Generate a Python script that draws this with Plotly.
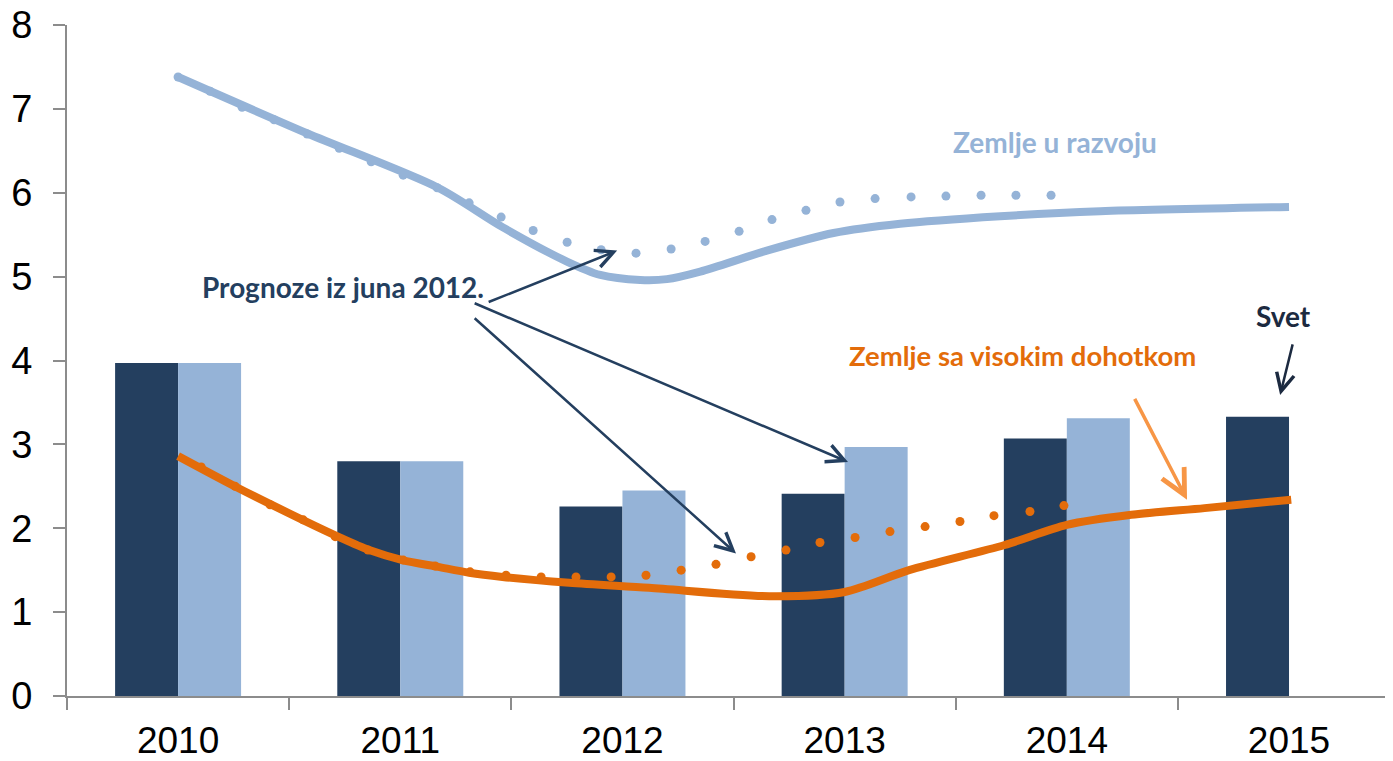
import plotly.graph_objects as go

# category axis: 0 = 2010 ... 5 = 2015
years = ["2010", "2011", "2012", "2013", "2014", "2015"]
year_pos = [0, 1, 2, 3, 4, 5]

# bars
svet = [3.97, 2.80, 2.26, 2.41, 3.07, 3.33]
razvoj_bar = [3.97, 2.80, 2.45, 2.97, 3.31, None]

# developing countries, current estimate (solid) and June 2012 forecast (dots)
razvoj_x = [0.0, 0.58, 1.17, 1.46, 1.75, 1.9, 2.08, 2.2, 2.35, 2.65, 2.95, 3.25, 3.7, 4.15, 5.0]
razvoj_y = [7.38, 6.71, 6.06, 5.59, 5.18, 5.02, 4.96, 4.97, 5.06, 5.31, 5.52, 5.63, 5.72, 5.78, 5.83]
razvoj_prog_x = [0.0, 0.144, 0.288, 0.432, 0.581, 0.725, 0.869, 1.013, 1.166, 1.31, 1.454,
                 1.598, 1.751, 1.904, 2.061, 2.219, 2.372, 2.525, 2.673, 2.826, 2.979,
                 3.137, 3.299, 3.456, 3.614, 3.771, 3.929]
razvoj_prog_y = [7.38, 7.21, 7.02, 6.87, 6.70, 6.53, 6.37, 6.21, 6.06, 5.88, 5.71,
                 5.55, 5.41, 5.32, 5.28, 5.33, 5.42, 5.54, 5.68, 5.79, 5.89,
                 5.93, 5.95, 5.96, 5.97, 5.97, 5.97]

# high income countries
visok_x = [0.0, 0.27, 0.56, 0.72, 0.86, 1.01, 1.17, 1.31, 1.46, 1.76, 2.12, 2.66, 3.0,
           3.29, 3.72, 4.0, 4.29, 4.62, 5.01]
visok_y = [2.86, 2.48, 2.10, 1.90, 1.74, 1.62, 1.54, 1.47, 1.42, 1.35, 1.29, 1.19, 1.24,
           1.50, 1.80, 2.04, 2.16, 2.24, 2.34]
visok_prog_x = [0.104, 0.257, 0.414, 0.563, 0.707, 0.855, 1.013, 1.157, 1.314, 1.476,
                1.634, 1.791, 1.949, 2.106, 2.264, 2.421, 2.579, 2.736, 2.889, 3.047,
                3.204, 3.362, 3.519, 3.672, 3.834, 3.987]
visok_prog_y = [2.73, 2.50, 2.28, 2.10, 1.90, 1.74, 1.62, 1.55, 1.48, 1.44,
                1.42, 1.42, 1.42, 1.44, 1.50, 1.57, 1.66, 1.74, 1.83, 1.89,
                1.96, 2.02, 2.08, 2.15, 2.20, 2.27]

NAVY = "#243f5f"
LIGHT = "#95b3d7"
ORANGE = "#e36c0a"
AXIS = "#8c8c8c"

fig = go.Figure()

fig.add_trace(go.Bar(x=year_pos, y=svet, name="Svet", marker=dict(color=NAVY, line=dict(width=0))))
fig.add_trace(go.Bar(x=year_pos, y=razvoj_bar, name="Zemlje u razvoju",
                     marker=dict(color=LIGHT, line=dict(width=0))))

# forecast dots
fig.add_trace(go.Scatter(x=razvoj_prog_x, y=razvoj_prog_y, mode="markers",
                         marker=dict(color=LIGHT, size=9)))
fig.add_trace(go.Scatter(x=visok_prog_x, y=visok_prog_y, mode="markers",
                         marker=dict(color=ORANGE, size=9)))

# solid lines
fig.add_trace(go.Scatter(x=razvoj_x, y=razvoj_y, mode="lines",
                         line=dict(color=LIGHT, width=8, shape="spline", smoothing=0.8)))
fig.add_trace(go.Scatter(x=visok_x, y=visok_y, mode="lines",
                         line=dict(color=ORANGE, width=8, shape="spline", smoothing=0.8)))

label_font = "Lato"

# text labels
fig.add_annotation(x=1.385, y=4.88, text="<b>Prognoze iz juna 2012.</b>", showarrow=False,
                   xanchor="right", font=dict(family=label_font, size=28, color=NAVY))
fig.add_annotation(x=3.48, y=6.61, text="<b>Zemlje u razvoju</b>", showarrow=False,
                   xanchor="left", font=dict(family=label_font, size=28, color=LIGHT))
fig.add_annotation(x=4.973, y=4.53, text="<b>Svet</b>", showarrow=False,
                   font=dict(family=label_font, size=28, color="#1c2a40"))
fig.add_annotation(x=3.01, y=4.06, text="<b>Zemlje sa visokim dohotkom</b>", showarrow=False,
                   xanchor="left", font=dict(family=label_font, size=27.5, color=ORANGE))

# arrows: (head x, head y, tail x, tail y, colour, width)
arrows = [
    (1.976, 5.31, 1.391, 4.69, NAVY, 2.5),
    (3.015, 2.79, 1.328, 4.69, NAVY, 2.5),
    (2.511, 1.70, 1.328, 4.52, NAVY, 2.5),
    (4.96, 3.59, 5.018, 4.21, "#1c2a40", 2.5),
    (4.541, 2.34, 4.302, 3.56, "#f79646", 3.5),
]
for hx, hy, tx, ty, col, w in arrows:
    fig.add_annotation(x=hx, y=hy, ax=tx, ay=ty, xref="x", yref="y", axref="x", ayref="y",
                       text="", showarrow=True, arrowhead=5, arrowsize=1.4, arrowwidth=w,
                       arrowcolor=col, standoff=0, startstandoff=0)

# the page puts the figure 8px in from the top-left corner
fig.update_layout(
    width=1385, height=753,
    margin=dict(l=59, r=0, t=17, b=65),
    paper_bgcolor="white", plot_bgcolor="white",
    barmode="group", bargap=0.433, bargroupgap=0,
    showlegend=False,
    font=dict(family="Liberation Sans, Arial, sans-serif", size=38, color="black"),
)

fig.update_xaxes(
    range=[-0.5, 5.468], tickvals=year_pos, ticktext=years,
    ticks="", showgrid=False, zeroline=False, automargin=False,
    showline=True, linecolor=AXIS, linewidth=2,
    tickfont=dict(size=37), ticklabelstandoff=11, ticklabeloverflow="allow",
    minor=dict(tickvals=[-0.5, 0.5, 1.5, 2.5, 3.5, 4.5], ticks="outside", ticklen=12,
               tickwidth=2, tickcolor=AXIS, showgrid=False),
)
fig.update_yaxes(
    range=[0, 8], dtick=1, ticks="outside", ticklen=12, tickwidth=2, tickcolor=AXIS,
    showgrid=False, zeroline=False, showline=True, linecolor=AXIS, linewidth=2,
    automargin=False, ticklabelstandoff=13, ticklabeloverflow="allow",
)

fig.write_html("out.html")
